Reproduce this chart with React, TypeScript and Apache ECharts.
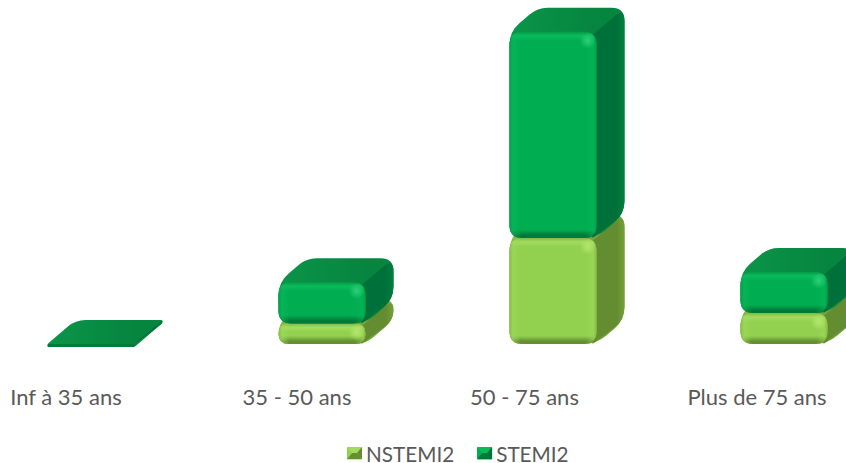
import React, { useEffect, useRef } from "react";
import * as echarts from "echarts";

const categories = ["Inf à 35 ans", "35 - 50 ans", "50 - 75 ans", "Plus de 75 ans"];
const nstemi = [0, 2, 10.3, 3];
const stemi = [0, 4, 20, 4];

const FONT = "Lato, Carlito, sans-serif";
const DX = 28;
const DY = 24;
const OFFSET = 25;
const WIDTH_RATIO = 87 / 231;
const LABEL_SHIFT = [0, 0, 7, 4];

const PALETTE: any = {
  NSTEMI2: {
    top: "#76a43c", topLight: "#86b647", side: "#648c30", sideLight: "#74a038",
    front: "#92d050", bright: "#a2dc5c", dark: "#648f33", edge: "#82b848", glow: "#c4f27a",
  },
  STEMI2: {
    top: "#06853f", topLight: "#0a9549", side: "#00703a", sideLight: "#027f3e",
    front: "#00ad50", bright: "#0abb5c", dark: "#007a38", edge: "#059a48", glow: "#45e08a",
  },
};

function roundedPoly(points: number[][], radii: number[]) {
  const n = points.length;
  let d = "";
  for (let i = 0; i < n; i++) {
    const p = points[i];
    const a = points[(i + n - 1) % n];
    const b = points[(i + 1) % n];
    const la = Math.hypot(a[0] - p[0], a[1] - p[1]) || 1;
    const lb = Math.hypot(b[0] - p[0], b[1] - p[1]) || 1;
    const r = Math.min(radii[i], la / 2, lb / 2);
    const s = [p[0] + ((a[0] - p[0]) * r) / la, p[1] + ((a[1] - p[1]) * r) / la];
    const e = [p[0] + ((b[0] - p[0]) * r) / lb, p[1] + ((b[1] - p[1]) * r) / lb];
    d += `${i ? "L" : "M"}${s[0]} ${s[1]}Q${p[0]} ${p[1]} ${e[0]} ${e[1]}`;
  }
  return d + "Z";
}

const linear = (x0: number, y0: number, x1: number, y1: number, stops: any[]) =>
  new echarts.graphic.LinearGradient(x0, y0, x1, y1, stops.map(([offset, color]) => ({ offset, color })));

function renderBar(name: string) {
  const c = PALETTE[name];
  return (_: any, api: any) => {
    const cat = api.value(0);
    const [cx, yBase] = api.coord([cat, api.value(1)]);
    const [, yTop] = api.coord([cat, api.value(2)]);
    const w = api.size([1, 0])[0] * WIDTH_RATIO;
    const x0 = cx + OFFSET - w / 2;
    const x1 = x0 + w;
    const flat = yBase - yTop < 1;
    const yt = flat ? yBase : yTop;
    const yb = flat ? yBase + 3 : yBase;
    const h = yb - yt;
    const r = Math.min(13, h / 2);
    if (flat && name === "NSTEMI2") return { type: "group", children: [] };

    const back = flat ? 6 : 13;
    const silhouette = roundedPoly(
      [[x0, yt], [x0 + DX, yt - DY], [x1 + DX, yt - DY], [x1 + DX, yb - DY], [x1, yb], [x0, yb]],
      [r, 10, back, r, r, r]
    );
    const side = roundedPoly(
      [[x1 - 4, yt + 3], [x1 + DX, yt - DY], [x1 + DX, yb - DY], [x1 - 4, yb]],
      [0, back, r, 0]
    );
    const front = roundedPoly([[x0, yt], [x1, yt], [x1, yb], [x0, yb]], [r, r, r, r]);
    const band = Math.min(0.45, 9 / Math.max(h, 1));
    const children: any[] = [
      { type: "path", shape: { pathData: silhouette }, style: { fill: linear(0, 0, 1, 0, [[0, c.topLight], [0.75, c.top], [1, c.top]]) } },
      { type: "path", shape: { pathData: side }, style: { fill: linear(0, 0, 1, 0, [[0, c.side], [0.75, c.side], [1, c.sideLight]]) } },
      {
        type: "path",
        shape: { pathData: front },
        style: {
          fill: flat
            ? c.dark
            : linear(0, 0, 0, 1, [
                [0, c.edge], [band * 0.45, c.bright], [band, c.front],
                [1 - band * 0.9, c.front], [1 - band * 0.3, c.dark], [1, c.dark],
              ]),
        },
      },
    ];
    if (!flat) {
      const ew = 11 / w;
      children.push(
        {
          type: "path",
          shape: { pathData: front },
          style: {
            fill: linear(0, 0, 1, 0, [
              [0, c.edge], [ew * 0.35, c.bright + "88"], [ew, c.bright + "00"],
              [1 - ew, c.bright + "00"], [1 - ew * 0.35, c.bright + "66"], [1, c.edge],
            ]),
          },
        },
        {
          type: "circle",
          shape: { cx: x1 - 9, cy: yt + Math.min(9, h / 2), r: 8 },
          style: {
            fill: new echarts.graphic.RadialGradient(0.5, 0.5, 0.5, [
              { offset: 0, color: c.glow + "aa" },
              { offset: 1, color: c.glow + "00" },
            ]),
          },
        }
      );
    }
    return { type: "group", children };
  };
}

function makeSeries(name: string, base: number[], values: number[]) {
  return {
    name,
    type: "custom",
    coordinateSystem: "cartesian2d",
    clip: false,
    itemStyle: { color: PALETTE[name].front },
    encode: { x: 0, y: [1, 2] },
    data: values.map((v, i) => [i, base[i], base[i] + v]),
    renderItem: renderBar(name),
  };
}

function legendIcon(x: number, y: number, c: any) {
  const w = 15, h = 12, m = 5;
  const tri = (pts: number[][], fill: string) => ({
    type: "polygon", silent: true, z: 100, shape: { points: pts.map(([a, b]) => [x + a, y + b]) }, style: { fill },
  });
  return [
    tri([[0, 0], [w, 0], [w - m, h / 2], [m, h / 2]], c.bright),
    tri([[0, h], [w, h], [w - m, h / 2], [m, h / 2]], c.dark),
    tri([[0, 0], [m, h / 2], [0, h]], c.front),
    tri([[w, 0], [w - m, h / 2], [w, h]], c.side),
  ];
}

export default function App() {
  const ref = useRef<HTMLDivElement>(null);
  useEffect(() => {
    const chart = echarts.init(ref.current!, undefined, { renderer: "svg" });
    const labelStyle = (i: number) => ({
      color: "#595959", fontFamily: FONT, fontSize: 22, padding: [0, LABEL_SHIFT[i], 0, 0],
    });
    chart.setOption({
      animation: false,
      backgroundColor: "#ffffff",
      grid: { left: -49.5, width: 924, top: 4, height: 340, outerBoundsMode: "none", containLabel: false },
      xAxis: {
        type: "category",
        data: categories,
        axisLine: { show: false },
        axisTick: { show: false },
        axisLabel: {
          color: "#595959", fontFamily: FONT, fontSize: 22, margin: 41, interval: 0, hideOverlap: false,
          formatter: (v: string, i: number) => `{l${i}|${v}}`,
          rich: { l0: labelStyle(0), l1: labelStyle(1), l2: labelStyle(2), l3: labelStyle(3) },
        },
      },
      yAxis: { type: "value", min: 0, max: 33, show: false, splitLine: { show: false } },
      legend: {
        left: 347,
        top: 443,
        padding: 0,
        itemWidth: 15,
        itemHeight: 12,
        itemGap: 23,
        icon: "rect",
        selectedMode: false,
        textStyle: { color: "#595959", fontFamily: FONT, fontSize: 20.7, padding: [0, 0, 0, -1] },
        data: ["NSTEMI2", "STEMI2"],
      },
      graphic: [...legendIcon(347, 447, PALETTE.NSTEMI2), ...legendIcon(477, 447, PALETTE.STEMI2)],
      series: [
        makeSeries("NSTEMI2", nstemi.map(() => 0), nstemi),
        makeSeries("STEMI2", nstemi, stemi),
      ],
    });
    return () => chart.dispose();
  }, []);
  return <div ref={ref} style={{ position: "fixed", left: 0, top: 0, width: 846, height: 463 }} />;
}
